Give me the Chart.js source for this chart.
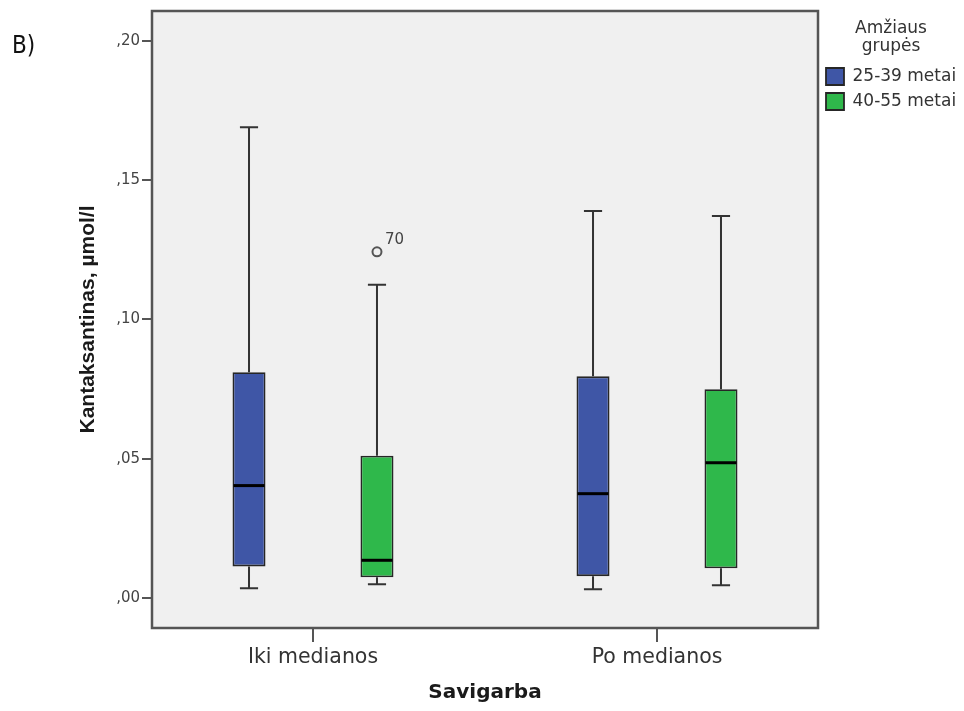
<!DOCTYPE html>
<html>
<head>
<meta charset="utf-8">
<script src="https://cdn.jsdelivr.net/npm/chart.js@4.4.1/dist/chart.umd.min.js"></script>
<style>
  html, body { margin: 0; padding: 0; background: #ffffff; }
  #wrap { position: relative; width: 964px; height: 711px; }
</style>
</head>
<body>
<div id="wrap"><canvas id="chart" width="964" height="711"></canvas></div>
<script>
// Categories on the x axis and the two age groups
const categories = ['Iki medianos', 'Po medianos'];
const groups = ['25-39 metai', '40-55 metai'];

// Five-number summaries (µmol/l), one value per category
const lowYoung    = [0.0036, 0.0032];
const q1Young     = [0.0114, 0.0079];
const medianYoung = [0.0404, 0.0375];
const q3Young     = [0.0811, 0.0796];
const highYoung   = [0.1690, 0.1389];

const lowOld    = [0.0050, 0.0046];
const q1Old     = [0.0075, 0.0107];
const medianOld = [0.0136, 0.0486];
const q3Old     = [0.0511, 0.0750];
const highOld   = [0.1125, 0.1371];

// Outliers: category index, value, case number
const outliersYoung = [];
const outliersOld = [[0, 0.1243, '70']];

// Y axis tick labels (comma decimal style)
const yTickLabels = [',00', ',05', ',10', ',15', ',20'];

const FONT = '"DejaVu Sans", sans-serif';

function boxData(q1, q3) {
  return categories.map((c, i) => ({ x: i, y: [q1[i], q3[i]] }));
}

// Plot background, frame and the panel letter
const framePlugin = {
  id: 'plotFrame',
  beforeDraw(chart) {
    const { ctx, chartArea: a } = chart;
    ctx.save();
    ctx.fillStyle = '#ffffff';
    ctx.fillRect(0, 0, chart.width, chart.height);
    ctx.fillStyle = '#f0f0f0';
    ctx.fillRect(a.left, a.top, a.right - a.left, a.bottom - a.top);
    ctx.restore();
  },
  afterDraw(chart) {
    const { ctx, chartArea: a } = chart;
    ctx.save();
    ctx.strokeStyle = '#555555';
    ctx.lineWidth = 2.5;
    ctx.strokeRect(a.left, a.top, a.right - a.left, a.bottom - a.top);
    ctx.fillStyle = '#111111';
    ctx.font = '24px "DejaVu Sans Condensed", "Liberation Sans", sans-serif';
    ctx.textBaseline = 'middle';
    ctx.textAlign = 'left';
    ctx.fillText('B)', 12, 47);
    ctx.restore();
  }
};

// Whiskers, caps, medians and outliers for each box
const boxPlugin = {
  id: 'boxWhiskers',
  beforeDatasetsDraw(chart) {
    const { ctx, scales: { y } } = chart;
    ctx.save();
    ctx.strokeStyle = '#333333';
    ctx.lineWidth = 2;
    chart.data.datasets.forEach((ds, di) => {
      const meta = chart.getDatasetMeta(di);
      meta.data.forEach((bar, i) => {
        const { x, width } = bar.getProps(['x', 'width'], true);
        const cap = width * 0.55;
        const pLow = y.getPixelForValue(ds.summary.low[i]);
        const pHigh = y.getPixelForValue(ds.summary.high[i]);
        const pQ1 = y.getPixelForValue(ds.data[i].y[0]);
        const pQ3 = y.getPixelForValue(ds.data[i].y[1]);
        ctx.beginPath();
        ctx.moveTo(x, pHigh); ctx.lineTo(x, pQ3);
        ctx.moveTo(x, pQ1); ctx.lineTo(x, pLow);
        ctx.moveTo(x - cap / 2, pHigh); ctx.lineTo(x + cap / 2, pHigh);
        ctx.moveTo(x - cap / 2, pLow); ctx.lineTo(x + cap / 2, pLow);
        ctx.stroke();
      });
    });
    ctx.restore();
  },
  afterDatasetsDraw(chart) {
    const { ctx, scales: { y } } = chart;
    ctx.save();
    chart.data.datasets.forEach((ds, di) => {
      const meta = chart.getDatasetMeta(di);
      meta.data.forEach((bar, i) => {
        const { x, width } = bar.getProps(['x', 'width'], true);
        const pMed = y.getPixelForValue(ds.summary.median[i]);
        ctx.strokeStyle = '#000000';
        ctx.lineWidth = 3;
        ctx.beginPath();
        ctx.moveTo(x - width / 2 + 1, pMed);
        ctx.lineTo(x + width / 2 - 1, pMed);
        ctx.stroke();
      });
      ds.summary.outliers.forEach(([ci, value, label]) => {
        const bar = meta.data[ci];
        const { x } = bar.getProps(['x'], true);
        const py = y.getPixelForValue(value);
        ctx.strokeStyle = '#555555';
        ctx.lineWidth = 2;
        ctx.beginPath();
        ctx.arc(x, py, 4.5, 0, Math.PI * 2);
        ctx.stroke();
        ctx.fillStyle = '#444444';
        ctx.font = '15px ' + FONT;
        ctx.textAlign = 'left';
        ctx.textBaseline = 'alphabetic';
        ctx.fillText(label, x + 8, py - 8);
      });
    });
    ctx.restore();
  }
};

new Chart(document.getElementById('chart'), {
  type: 'bar',
  data: {
    datasets: [
      {
        label: groups[0],
        data: boxData(q1Young, q3Young),
        summary: { low: lowYoung, median: medianYoung, high: highYoung, outliers: outliersYoung },
        backgroundColor: '#3f56a6',
        borderColor: '#262626',
        borderWidth: 1.8,
        borderSkipped: false,
        categoryPercentage: 0.744,
        barPercentage: 0.258
      },
      {
        label: groups[1],
        data: boxData(q1Old, q3Old),
        summary: { low: lowOld, median: medianOld, high: highOld, outliers: outliersOld },
        backgroundColor: '#2fb84b',
        borderColor: '#262626',
        borderWidth: 1.8,
        borderSkipped: false,
        categoryPercentage: 0.744,
        barPercentage: 0.258
      }
    ]
  },
  options: {
    responsive: false,
    animation: false,
    layout: { padding: { top: 8, left: 0, right: 0, bottom: 0 } },
    scales: {
      x: {
        type: 'linear',
        min: -0.468,
        max: 1.468,
        offset: false,
        afterFit(scale) { scale.height = 83; },
        border: { display: false },
        grid: {
          display: true, offset: false, drawOnChartArea: false, drawTicks: true,
          tickLength: 14, color: '#555555', lineWidth: 2
        },
        ticks: {
          stepSize: 1,
          includeBounds: false,
          autoSkip: false,
          maxRotation: 0,
          padding: 3,
          color: '#333333',
          font: { family: FONT, size: 20.5 },
          callback: (v) => categories[v] ?? ''
        },
        title: {
          display: true,
          text: 'Savigarba',
          color: '#1a1a1a',
          font: { family: '"DejaVu Sans", sans-serif', size: 20, weight: 'bold', lineHeight: 1.2 },
          padding: { top: 0, bottom: 6 }
        }
      },
      y: {
        type: 'linear',
        min: -0.0107,
        max: 0.2107,
        afterFit(scale) { scale.width = 152; },
        border: { display: false },
        grid: {
          display: true, drawOnChartArea: false, drawTicks: true,
          tickLength: 10, color: '#555555', lineWidth: 2
        },
        ticks: {
          stepSize: 0.05,
          includeBounds: false,
          padding: 2,
          color: '#444444',
          font: { family: FONT, size: 15 },
          callback: (v) => yTickLabels[Math.round(v / 0.05)] ?? ''
        },
        title: {
          display: true,
          text: 'Kantaksantinas, \u00b5mol/l',
          color: '#1a1a1a',
          font: { family: '"Liberation Sans", Arial, sans-serif', size: 21, weight: 'bold', lineHeight: 1.2 },
          padding: { top: 75.4, bottom: 0 }
        }
      }
    },
    plugins: {
      tooltip: { enabled: false },
      legend: {
        position: 'right',
        align: 'start',
        maxWidth: 146,
        title: {
          display: true,
          text: ['Amžiaus', 'grupės'],
          color: '#333333',
          font: { family: FONT, size: 17, lineHeight: '18px' },
          padding: { top: 12, bottom: 22 }
        },
        labels: {
          boxWidth: 18,
          boxHeight: 17,
          padding: 8,
          color: '#333333',
          font: { family: FONT, size: 17 }
        }
      }
    }
  },
  plugins: [framePlugin, boxPlugin]
});
</script>
</body>
</html>
